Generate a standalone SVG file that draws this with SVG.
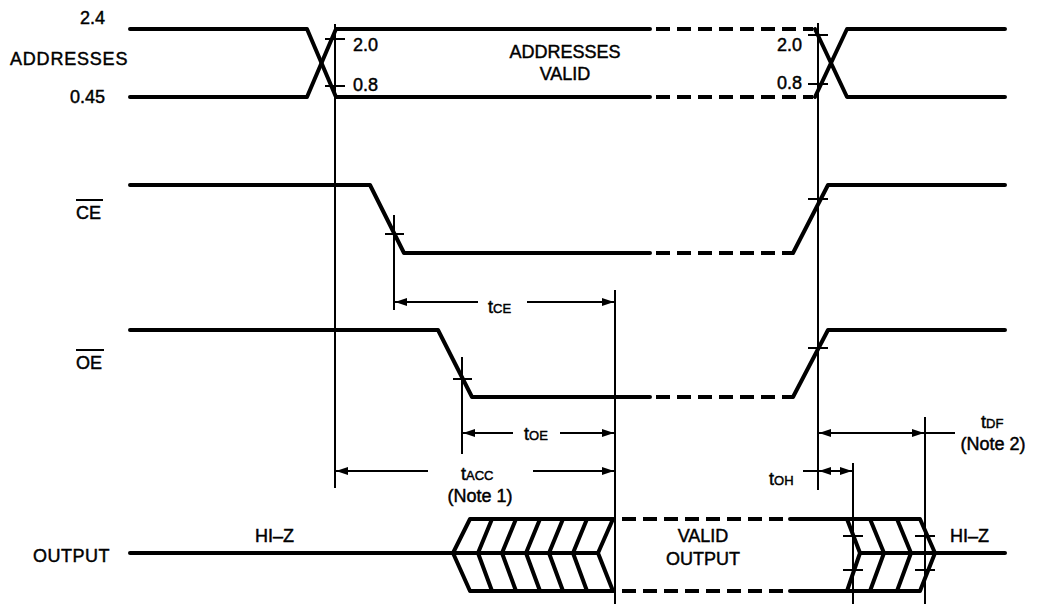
<svg xmlns="http://www.w3.org/2000/svg" width="1037" height="604" viewBox="0 0 1037 604">
<style>
text{font-family:"Liberation Sans",Arial,sans-serif;fill:#000;stroke:#000;stroke-width:0.45}
.lbl{font-size:18px}
.sub{font-size:13px}
.sig{fill:none;stroke:#000;stroke-width:4;stroke-linecap:round;stroke-linejoin:round}
.dash{fill:none;stroke:#000;stroke-width:4;stroke-dasharray:14 7}
.thin{fill:none;stroke:#000;stroke-width:2}
.arr{fill:none;stroke:#000;stroke-width:2;marker-end:url(#ah)}
.tick{fill:none;stroke:#000;stroke-width:2}
</style>
<defs>
<marker id="ah" viewBox="0 0 12 8" refX="12" refY="4" markerWidth="12" markerHeight="8" markerUnits="userSpaceOnUse" orient="auto">
<path d="M0,0 L12,4 L0,8 Z" fill="#000"/>
</marker>
</defs>
<rect width="1037" height="604" fill="#fff"/>

<g id="labels">
<text class="lbl" x="105" y="24" text-anchor="end">2.4</text>
<text class="lbl" x="10" y="65" letter-spacing="0.8">ADDRESSES</text>
<text class="lbl" x="105" y="103" text-anchor="end">0.45</text>
<text class="lbl" x="76" y="219">CE</text>
<line x1="76" y1="200" x2="103" y2="200" class="thin"/>
<text class="lbl" x="76" y="369">OE</text>
<line x1="76" y1="350" x2="104" y2="350" class="thin"/>
<text class="lbl" x="33" y="562" letter-spacing="0.5">OUTPUT</text>
</g>

<g id="addresses">
<path class="sig" d="M130,29 L307,29 L336,97 L650,97"/>
<path class="sig" d="M130,97 L307,97 L336,29 L650,29"/>
<line class="dash" x1="656" y1="29" x2="813" y2="29"/>
<line class="dash" x1="656" y1="97" x2="813" y2="97"/>
<path class="sig" d="M815,29 L847,97 L1005,97"/>
<path class="sig" d="M815,97 L847,29 L1005,29"/>
<line class="tick" x1="325" y1="39" x2="345" y2="39"/>
<line class="tick" x1="325" y1="86" x2="345" y2="86"/>
<line class="tick" x1="808" y1="35" x2="828" y2="35"/>
<line class="tick" x1="808" y1="84" x2="828" y2="84"/>
<text class="lbl" x="353" y="51">2.0</text>
<text class="lbl" x="353" y="91">0.8</text>
<text class="lbl" x="802" y="51" text-anchor="end">2.0</text>
<text class="lbl" x="802" y="89" text-anchor="end">0.8</text>
<text class="lbl" x="565" y="58" text-anchor="middle">ADDRESSES</text>
<text class="lbl" x="565" y="80" text-anchor="middle">VALID</text>
</g>

<g id="ce">
<path class="sig" d="M130,185 L370,185 L404,253 L650,253"/>
<line class="dash" x1="656" y1="253" x2="793" y2="253"/>
<path class="sig" d="M793,253 L828,185 L1005,185"/>
<line class="tick" x1="385" y1="234" x2="404" y2="234"/>
<line class="tick" x1="808" y1="199" x2="828" y2="199"/>
</g>

<g id="oe">
<path class="sig" d="M130,330 L438,330 L472,397 L650,397"/>
<line class="dash" x1="656" y1="397" x2="793" y2="397"/>
<path class="sig" d="M793,397 L828,330 L1005,330"/>
<line class="tick" x1="453" y1="379" x2="472" y2="379"/>
<line class="tick" x1="808" y1="348" x2="828" y2="348"/>
</g>

<g id="output">
<line class="sig" x1="130" y1="553" x2="598" y2="553"/>
<path class="sig" d="M613,519 L470,519 L453,553 L470,591 L613,591"/>
<path class="sig" d="M492,519 L478,553 L492,591 M516,519 L502,553 L516,591 M540,519 L526,553 L540,591 M563,519 L549,553 L563,591 M587,519 L573,553 L587,591 M613,519 L598,553 L613,591"/>
<line class="dash" x1="622" y1="519" x2="788" y2="519"/>
<line class="dash" x1="622" y1="591" x2="788" y2="591"/>
<path class="sig" d="M790,519 L920,519 L935,553 L920,591 L790,591"/>
<path class="sig" d="M847,519 L860,553 L847,591 M870,519 L884,553 L870,591 M897,519 L911,553 L897,591"/>
<line class="sig" x1="860" y1="553" x2="1005" y2="553"/>
<line class="tick" x1="843" y1="536" x2="863" y2="536"/>
<line class="tick" x1="843" y1="570" x2="863" y2="570"/>
<line class="tick" x1="915" y1="536" x2="935" y2="536"/>
<line class="tick" x1="915" y1="570" x2="935" y2="570"/>
<text class="lbl" x="255" y="542">HI–Z</text>
<text class="lbl" x="950" y="542">HI–Z</text>
<text class="lbl" x="703" y="542" text-anchor="middle">VALID</text>
<text class="lbl" x="703" y="565" text-anchor="middle">OUTPUT</text>
</g>

<g id="connectors">
<line class="thin" x1="335" y1="24" x2="335" y2="488"/>
<line class="thin" x1="818" y1="23" x2="818" y2="490"/>
<line class="thin" x1="394" y1="215" x2="394" y2="310"/>
<line class="thin" x1="462" y1="357" x2="462" y2="454"/>
<line class="thin" x1="615" y1="290" x2="615" y2="604"/>
<line class="thin" x1="853" y1="463" x2="853" y2="604"/>
<line class="thin" x1="925" y1="417" x2="925" y2="604"/>

<line class="arr" x1="478" y1="302" x2="395" y2="302"/>
<line class="arr" x1="527" y1="302" x2="614" y2="302"/>
<line class="arr" x1="513" y1="433" x2="463" y2="433"/>
<line class="arr" x1="560" y1="433" x2="614" y2="433"/>
<line class="arr" x1="428" y1="471" x2="336" y2="471"/>
<line class="arr" x1="533" y1="471" x2="614" y2="471"/>
<line class="arr" x1="872" y1="433" x2="819" y2="433"/>
<line class="arr" x1="872" y1="433" x2="924" y2="433"/>
<line class="thin" x1="925" y1="433" x2="955" y2="433"/>
<line class="thin" x1="803" y1="471" x2="818" y2="471"/>
<line class="arr" x1="836" y1="471" x2="819" y2="471"/>
<line class="arr" x1="836" y1="471" x2="852" y2="471"/>

<text x="488" y="313"><tspan class="lbl">t</tspan><tspan class="sub">CE</tspan></text>
<text x="524" y="440"><tspan class="lbl">t</tspan><tspan class="sub">OE</tspan></text>
<text x="461" y="480"><tspan class="lbl">t</tspan><tspan class="sub">ACC</tspan></text>
<text class="lbl" x="480" y="502" text-anchor="middle">(Note 1)</text>
<text x="769" y="485"><tspan class="lbl">t</tspan><tspan class="sub">OH</tspan></text>
<text x="981" y="428"><tspan class="lbl">t</tspan><tspan class="sub">DF</tspan></text>
<text class="lbl" x="993" y="450" text-anchor="middle">(Note 2)</text>
</g>
</svg>
